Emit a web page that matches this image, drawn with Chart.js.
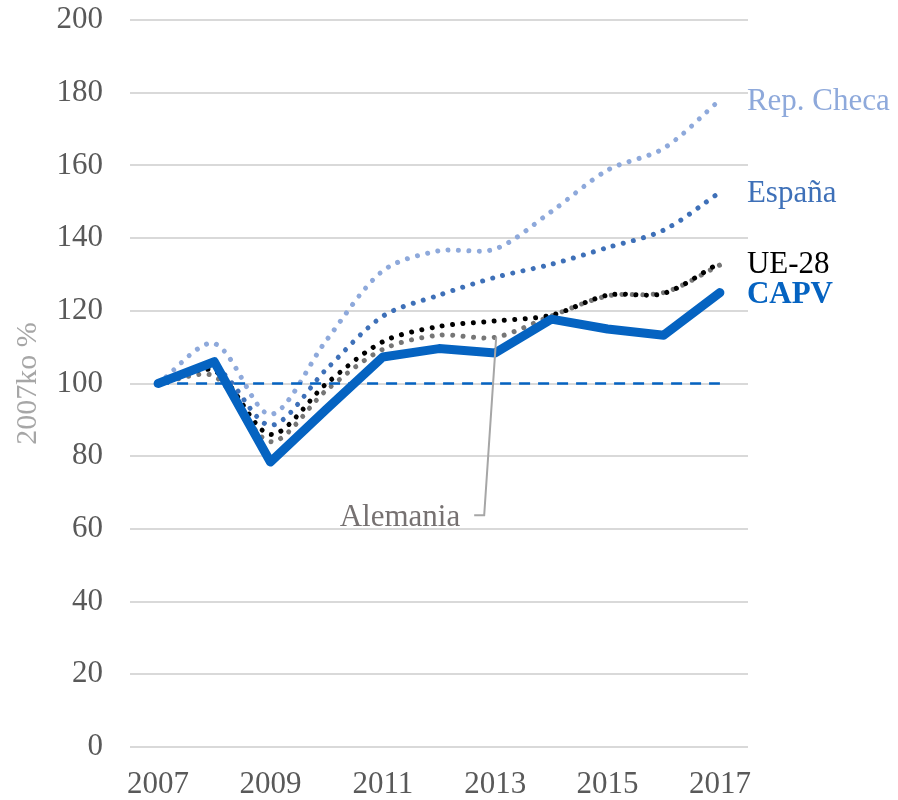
<!DOCTYPE html>
<html><head><meta charset="utf-8">
<script src="https://cdn.jsdelivr.net/npm/chart.js@4.4.0/dist/chart.umd.min.js"></script>
<style>html,body{margin:0;padding:0;background:#fff;}#wrap{width:898px;height:800px;}</style>
</head><body><div id="wrap"><canvas id="c" width="898" height="800"></canvas></div>
<script>
const years = ['2007','2008','2009','2010','2011','2012','2013','2014','2015','2016','2017'];
const capv      = [100, 106,   78.4, 93,   107.3, 109.6, 108.4, 117.7, 115,   113.3, 125];
const repCheca  = [100, 111,   91.5, 112,  131,   136.5, 137,   147.3, 158.7, 164.7, 178];
const espana    = [100, 104.5, 88.5, 104,  118.5, 124.3, 129.2, 132.8, 137.4, 142.2, 152.6];
const ue28      = [100, 103.5, 86,   100,  111.5, 115.7, 117.2, 118.8, 124.3, 124.8, 133.2];
const alemania  = [100, 102,   84,   98.2, 109.4, 113.3, 112.7, 118.6, 124.1, 125,   132.6];
const baseline  = [100, 100,   100,  100,  100,   100,   100,   100,   100,   100,   100];
const yMin = 0, yMax = 200, yStep = 20;
const seriesLabels = [
  {text:'Rep. Checa', data: repCheca, color:'#8EA9DB', bold:false},
  {text:'España', data: espana, color:'#3E70B8', bold:false},
  {text:'UE-28', data: ue28, color:'#000000', bold:false},
  {text:'CAPV', data: capv, color:'#0563C1', bold:true}
];
const FONT = "'Liberation Serif', 'Times New Roman', serif";

const dotted = (color) => ({
  borderColor: color, borderWidth: 5, borderDash: [0.01, 10.4], borderCapStyle: 'round',
  borderJoinStyle: 'round', pointRadius: 0, tension: 0.3, fill: false
});

const labelPlugin = {
  id: 'labels',
  afterDatasetsDraw(chart) {
    const ctx = chart.ctx, xs = chart.scales.x, ys = chart.scales.y;
    const last = years.length - 1;
    ctx.save();
    ctx.textAlign = 'left';
    ctx.textBaseline = 'alphabetic';
    seriesLabels.forEach(l => {
      ctx.font = (l.bold ? 'bold ' : '') + '31px ' + FONT;
      ctx.fillStyle = l.color;
      ctx.fillText(l.text, xs.getPixelForValue(last) + 27, ys.getPixelForValue(l.data[last]) + 10);
    });
    // Alemania callout
    const ax = xs.getPixelForValue(6), ay = ys.getPixelForValue(alemania[6]);
    ctx.strokeStyle = '#A6A6A6'; ctx.lineWidth = 2;
    ctx.beginPath();
    ctx.moveTo(ax + 1, ay);
    ctx.lineTo(ax - 11, ay + 178);
    ctx.lineTo(ax - 21, ay + 178);
    ctx.stroke();
    ctx.font = '31px ' + FONT;
    ctx.fillStyle = '#767171';
    ctx.textAlign = 'right';
    ctx.fillText('Alemania', ax - 35, ay + 189);
    ctx.restore();
  }
};

new Chart(document.getElementById('c'), {
  type: 'line',
  data: {
    labels: years,
    datasets: [
      {label:'CAPV', data: capv, borderColor:'#0563C1', borderWidth: 9, borderCapStyle:'round', borderJoinStyle:'round', pointRadius:0, tension:0, fill:false},
      {label:'base', data: baseline, borderColor:'#0563C1', borderWidth: 2.5, borderDash:[11, 8], pointRadius:0, tension:0, fill:false},
      Object.assign({label:'UE-28', data: ue28}, dotted('#000000')),
      Object.assign({label:'Alemania', data: alemania}, dotted('#767676')),
      Object.assign({label:'España', data: espana}, dotted('#3E70B8')),
      Object.assign({label:'Rep. Checa', data: repCheca}, dotted('#8EA9DB'))
    ]
  },
  options: {
    responsive: false, animation: false, devicePixelRatio: 1,
    layout: {padding: {top: 20, right: 150, left: 0, bottom: 0}},
    plugins: {legend: {display: false}, tooltip: {enabled: false}},
    scales: {
      x: {
        offset: true,
        grid: {display: false, drawTicks: false},
        border: {display: false},
        ticks: {autoSkip: false, maxRotation: 0, color: '#595959', padding: 19,
          font: {family: FONT, size: 31},
          callback: (v, i) => (i % 2 === 0 ? years[i] : '')},
        afterFit(s) { s.height = 53; s.paddingLeft = 0; s.paddingRight = 0; }
      },
      y: {
        min: yMin, max: yMax,
        grid: {color: '#D9D9D9', lineWidth: 2, drawTicks: false},
        border: {display: false},
        ticks: {stepSize: yStep, color: '#595959', padding: 27, font: {family: FONT, size: 31}},
        title: {display: true, text: '2007ko %', color: '#A6A6A6', font: {family: FONT, size: 30}, padding: {top: 10, bottom: 0}},
        afterFit(s) { s.width = 130; s.paddingTop = 0; s.paddingBottom = 0; }
      }
    }
  },
  plugins: [labelPlugin]
});
</script></body></html>
